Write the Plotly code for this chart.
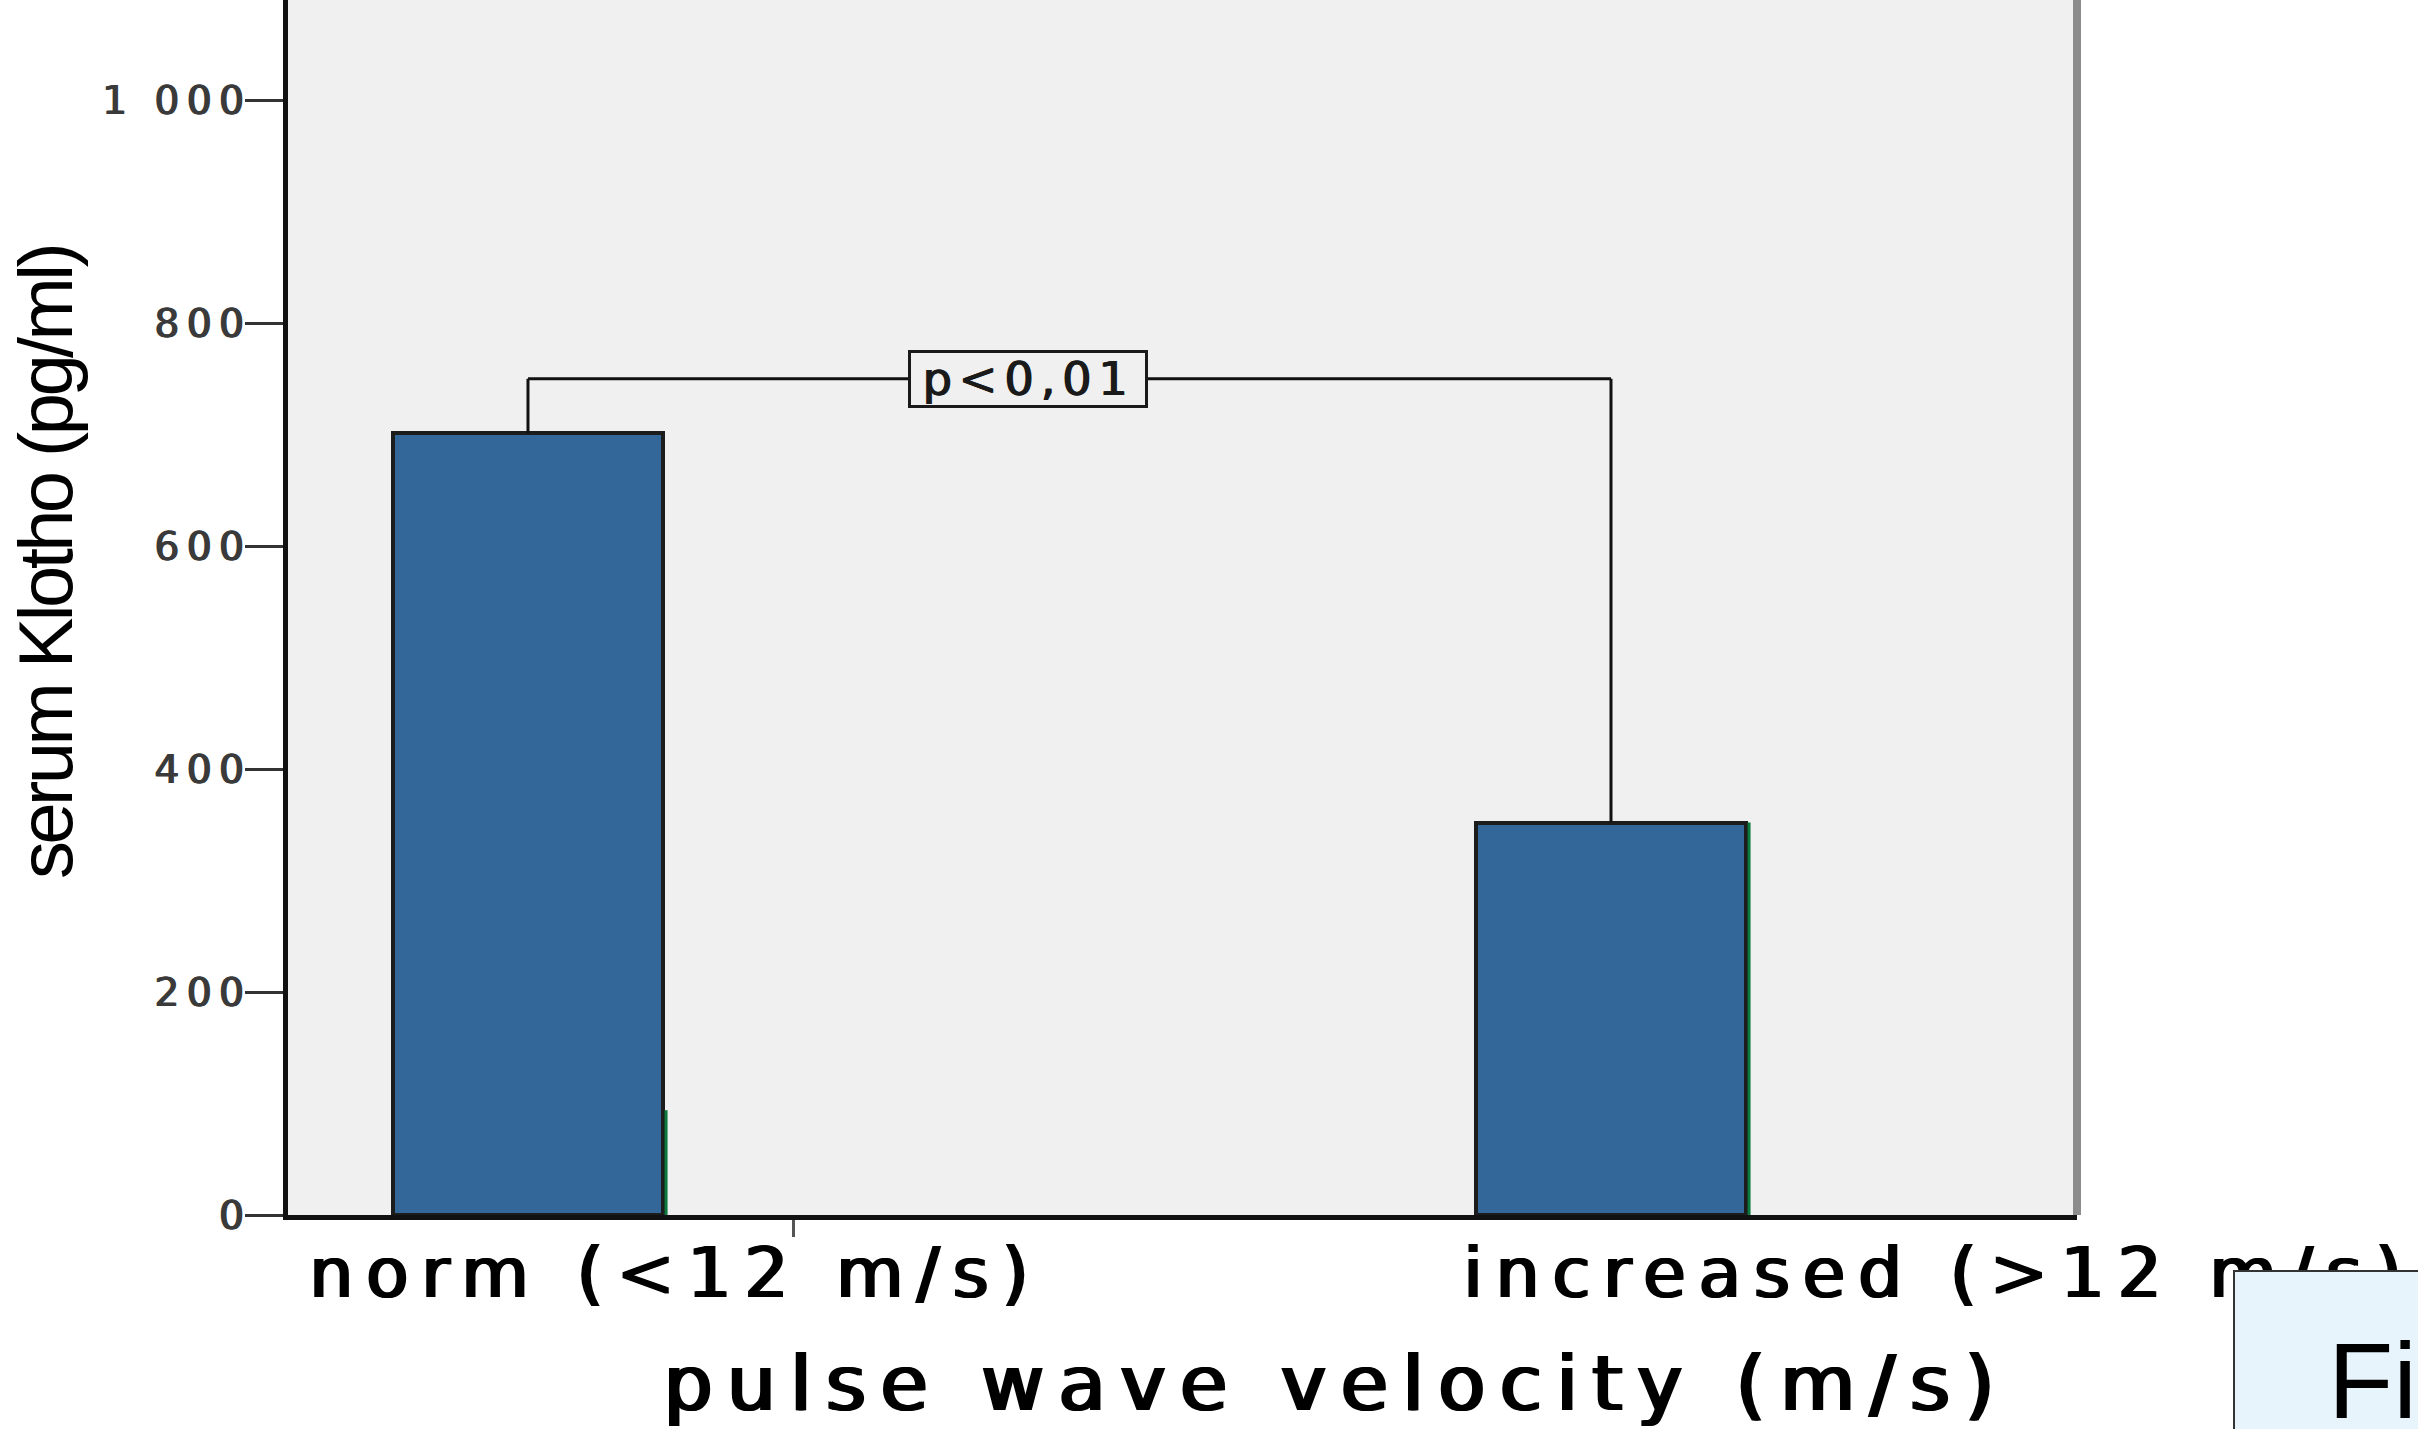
import plotly.graph_objects as go

# Serum Klotho by pulse wave velocity group
categories = ["norm (<12 m/s)", "increased (>12 m/s)"]
klotho_mean = [701, 352]          # pg/ml
edge_marks = [94, 352]            # green right-edge strokes on the bars
y_ticks = [0, 200, 400, 600, 800, 1000]
y_tick_text = ["0", "200", "400", "600", "800", "1 000"]
p_text = "p<0,01"
bracket_level = 750

x_pos = list(range(len(categories)))
bar_w = 0.249
FONT = "DejaVu Sans"


def widened(text, px, tail, thick, color="#000"):
    """Letter-spaced text with horizontally thickened strokes.
    The last glyph gets its own (tail) spacing."""
    shadow = ",".join(f"{thick * k / 2:.2f}px 0 0 {color}" for k in (1, 2))
    style = f"text-shadow:{shadow};"
    head, last = text[:-1], text[-1]
    out = ""
    if head:
        out += f'<span style="letter-spacing:{px}px;{style}">{head}</span>'
    out += f'<span style="letter-spacing:{tail}px;{style}">{last}</span>'
    return out


fig = go.Figure()
fig.add_bar(
    x=x_pos, y=klotho_mean, width=bar_w,
    marker=dict(color="#346799", line=dict(color="#1c1c1c", width=4)),
    hoverinfo="skip",
)

shapes = []
# green stroke along the right edge of each bar
for i, h in zip(x_pos, edge_marks):
    xe = i + bar_w / 2 + 0.003
    shapes.append(dict(type="line", xref="x", yref="y", x0=xe, x1=xe, y0=0, y1=h,
                       line=dict(color="#0b7a3c", width=3)))
# significance bracket between the two groups
shapes += [
    dict(type="line", xref="x", yref="y", x0=x_pos[0], x1=x_pos[0],
         y0=klotho_mean[0], y1=bracket_level, line=dict(color="#111", width=3)),
    dict(type="line", xref="x", yref="y", x0=x_pos[1], x1=x_pos[1],
         y0=klotho_mean[1], y1=bracket_level, line=dict(color="#111", width=3)),
    dict(type="line", xref="x", yref="y", x0=x_pos[0], x1=x_pos[1],
         y0=bracket_level, y1=bracket_level, line=dict(color="#111", width=3)),
]
# grey right frame of the plot area
shapes.append(dict(type="line", xref="paper", yref="paper", x0=1, x1=1, y0=0, y1=1,
                   line=dict(color="#8c8c8c", width=8), layer="above"))

label_font = dict(family=FONT, size=69, color="#000")

annotations = [
    dict(text=widened(categories[0], 13, 13, 3), xref="x", x=x_pos[0] - 0.205,
         xanchor="left", yref="paper", y=0, yshift=-58, yanchor="middle",
         showarrow=False, font=label_font),
    dict(text=widened(categories[1], 13, 13, 3), xref="x", x=x_pos[1] - 0.139,
         xanchor="left", yref="paper", y=0, yshift=-58, yanchor="middle",
         showarrow=False, font=label_font),
    dict(text=widened("pulse wave velocity (m/s)", 14.4, 14.4, 3.5), xref="paper",
         x=0.208, xanchor="left", yref="paper", y=0, yshift=-168, yanchor="middle",
         showarrow=False, font=dict(family=FONT, size=77, color="#000")),
    dict(text='<span style="letter-spacing:-3.6px">serum Klotho (pg/ml)</span>',
         textangle=-90, xref="paper", x=0, xshift=-243,
         xanchor="center", yref="paper", y=0.5366, yanchor="middle", showarrow=False,
         font=dict(family="Liberation Sans", size=76, color="#000")),
    dict(text=widened(p_text, 7, 7, 1.5, "#1a1a1a"), xref="x", x=0.4617, yref="y",
         y=bracket_level, xanchor="center", yanchor="middle", showarrow=False,
         font=dict(family=FONT, size=46, color="#1a1a1a"),
         bgcolor="#F0F0F0", bordercolor="#1a1a1a", borderwidth=3, borderpad=1,
         width=232, height=50),
    # caption box overlapping the lower right corner
    dict(text=" ", xref="paper", x=1, xshift=156, xanchor="left",
         yref="paper", y=0, yshift=-55, yanchor="top", showarrow=False,
         width=400, height=400, bgcolor="#E8F4FC", bordercolor="#333", borderwidth=2),
    dict(text="Fig", xref="paper", x=1, xshift=249, xanchor="left",
         yref="paper", y=0, yshift=-104, yanchor="top", showarrow=False,
         font=dict(family="Liberation Sans", size=107, color="#000")),
]

fig.update_layout(
    width=2418, height=1429,
    margin=dict(l=288, r=341, t=0, b=214, pad=0),
    paper_bgcolor="#FFFFFF", plot_bgcolor="#F0F0F0",
    showlegend=False, bargap=0,
    shapes=shapes, annotations=annotations,
    xaxis=dict(type="linear", range=[-0.2216, 1.4303], showgrid=False, zeroline=False,
               showline=True, linecolor="#111", linewidth=5,
               ticks="outside", tickvals=[0.2456], ticktext=[""], ticklen=17,
               tickwidth=3, tickcolor="#555"),
    yaxis=dict(range=[0, 1089.7], showgrid=False, zeroline=False,
               showline=True, linecolor="#111", linewidth=5,
               ticks="outside", ticklen=38, tickwidth=3, tickcolor="#333",
               tickvals=y_ticks,
               ticktext=[widened(t, 7.5, -6, 1.6, "#3a3a3a") for t in y_tick_text],
               tickfont=dict(family=FONT, size=39, color="#3a3a3a")),
)

fig.write_html("out.html")
